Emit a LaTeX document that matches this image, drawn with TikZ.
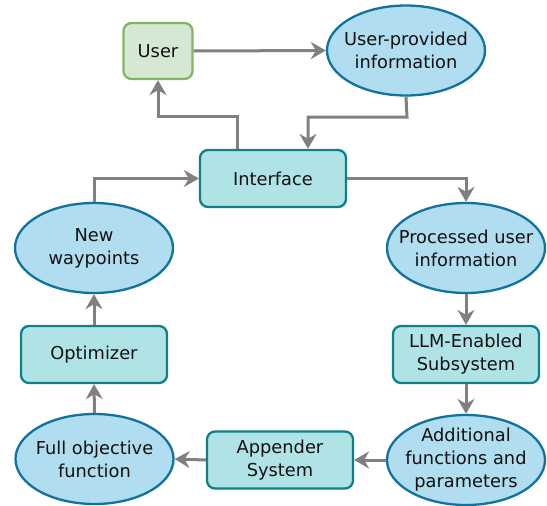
\documentclass[tikz,border=0pt]{standalone}
\usepackage{fontspec}
\setmainfont{DejaVu Sans}
\usetikzlibrary{shapes.geometric,arrows.meta}

\definecolor{usrfill}{HTML}{D5E8D4}
\definecolor{usrline}{HTML}{82B366}
\definecolor{boxfill}{HTML}{B0E3E6}
\definecolor{boxline}{HTML}{0E8088}
\definecolor{ellfill}{HTML}{B1DDF0}
\definecolor{ellline}{HTML}{10739E}
\definecolor{linkgray}{HTML}{808080}
\definecolor{txt}{HTML}{111111}

\tikzset{
  lbl/.style={font=\fontsize{17.8}{23}\selectfont, text=txt, align=center},
  userbox/.style={lbl, draw=usrline, fill=usrfill, line width=2.3pt,
    rounded corners=8pt, minimum width=69, minimum height=56, inner sep=0pt},
  procbox/.style={lbl, draw=boxline, fill=boxfill, line width=2.3pt,
    rounded corners=8pt, minimum width=146, minimum height=57, inner sep=0pt},
  % negative inner sep keeps every ellipse at its fixed size
  dataell/.style={lbl, ellipse, draw=ellline, fill=ellfill, line width=2.3pt,
    minimum width=158, minimum height=90, inner xsep=-14pt, inner ysep=-8pt},
  link/.style={draw=linkgray, line width=3pt,
    -{Stealth[length=15pt, width=17pt, inset=5pt]}}
}

\begin{document}
\begin{tikzpicture}[x=1pt, y=-1pt]
  \useasboundingbox (0,0) rectangle (547,506);

  % nodes
  \node[userbox] (user) at (158,51) {User};
  \node[dataell] (upi) at (406,50.5) {User-provided\\information};
  \node[procbox] (iface) at (273,178.5) {Interface};
  \node[dataell] (proc) at (466,248) {Processed user\\information};
  \node[procbox] (llm) at (466,354.5) {LLM-Enabled\\Subsystem};
  \node[dataell] (add) at (466,460) {Additional\\functions and\\parameters};
  \node[procbox] (app) at (280,460) {Appender\\System};
  \node[dataell] (full) at (94.5,459) {Full objective\\function};
  \node[procbox] (opt) at (94,354.5) {Optimizer};
  \node[dataell] (neww) at (94,248) {New\\waypoints};

  % bend points of the elbow connectors
  \coordinate (upiturn) at (407,117);
  \coordinate (usrturn) at (237,116);

  % connectors
  \draw[link] (user.east) -- (upi.west);
  \draw[link] (upi.south) -- (upiturn) -| ([xshift=35]iface.north);
  \draw[link] ([xshift=-36]iface.north) -- (usrturn) -| (user.south);
  \draw[link] (iface.east) -| (proc.north);
  \draw[link] (proc.south) -- (llm.north);
  \draw[link] (llm.south) -- (add.north);
  \draw[link] (add.west) -- (app.east);
  \draw[link] (app.west) -- (full.east);
  \draw[link] (full.north) -- (opt.south);
  \draw[link] (opt.north) -- (neww.south);
  \draw[link] (neww.north) |- (iface.west);
\end{tikzpicture}
\end{document}
